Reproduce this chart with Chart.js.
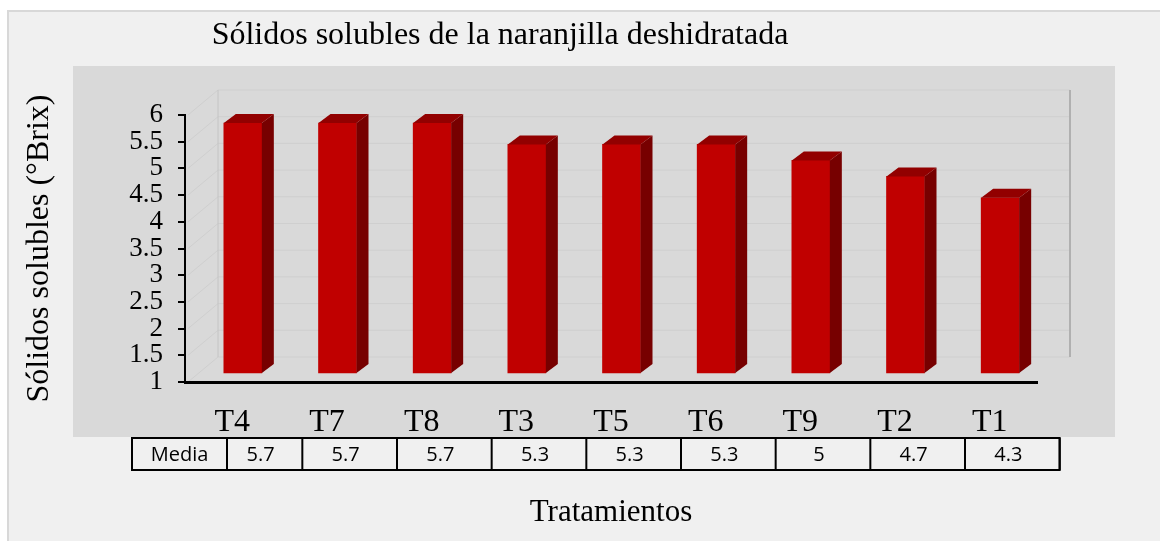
<!DOCTYPE html>
<html>
<head>
<meta charset="utf-8">
<script src="https://cdn.jsdelivr.net/npm/chart.js@4/dist/chart.umd.min.js"></script>
<style>
  html, body { margin: 0; padding: 0; background: #ffffff; }
  #frame {
    position: absolute; left: 7px; top: 10px; width: 1160px; height: 541px;
    background: #f0f0f0; border-top: 2px solid #d8d8d8; border-left: 2px solid #d8d8d8;
  }
  #wrap { position: absolute; left: 0; top: 0; width: 1160px; height: 541px; }
</style>
</head>
<body>
<div id="frame"></div>
<div id="wrap"><canvas id="chart" width="1160" height="541"></canvas></div>
<script>
        const chartTitle = 'Sólidos solubles de la naranjilla deshidratada';
        const yTitle = 'Sólidos solubles (°Brix)';
        const xTitle = 'Tratamientos';
        const categories = ['T4', 'T7', 'T8', 'T3', 'T5', 'T6', 'T9', 'T2', 'T1'];
        const means = [5.7, 5.7, 5.7, 5.3, 5.3, 5.3, 5, 4.7, 4.3];
        const tableRowLabel = 'Media';

        const serif = '"Liberation Serif", "Times New Roman", serif';

        // bars are drawn a bit behind the front axes (fake 3D)
        const SHIFT_X = 10.5;
        const SHIFT_Y = -8;
        const DEPTH_X = 12;
        const DEPTH_Y = -9;

        // background, back wall and its gridlines
        const backdrop = {
            id: 'backdrop',
            beforeDraw(chart) {
                const ctx = chart.ctx;
                const area = chart.chartArea;
                const y = chart.scales.y;
                ctx.save();
                ctx.fillStyle = '#d9d9d9';
                ctx.fillRect(73, 66, 1042, 371);

                const wx = 33, wy = -25;
                ctx.lineWidth = 1;
                ctx.strokeStyle = '#cfcfcf';
                y.ticks.forEach(t => {
                    const py = y.getPixelForValue(t.value);
                    ctx.beginPath();
                    ctx.moveTo(area.left + 3, py);
                    ctx.lineTo(area.left + wx, py + wy);
                    ctx.lineTo(area.right + wx, py + wy);
                    ctx.stroke();
                });
                // wall edges
                ctx.strokeStyle = '#c4c4c4';
                ctx.beginPath();
                ctx.moveTo(area.left + wx, area.top + wy);
                ctx.lineTo(area.left + wx, area.bottom + wy);
                ctx.stroke();
                ctx.strokeStyle = '#b0b0b0';
                ctx.lineWidth = 2;
                ctx.beginPath();
                ctx.moveTo(area.right + wx, area.top + wy);
                ctx.lineTo(area.right + wx, area.bottom + wy);
                ctx.stroke();
                ctx.restore();
            }
        };

        const bars3d = {
            id: 'bars3d',
            beforeDatasetDraw(chart) {
                chart.ctx.save();
                chart.ctx.translate(SHIFT_X, SHIFT_Y);
            },
            afterDatasetDraw(chart, args) {
                const ctx = chart.ctx;
                args.meta.data.forEach(bar => {
                    const {x, y, base, width} = bar.getProps(['x', 'y', 'base', 'width'], true);
                    const l = x - width / 2, r = x + width / 2;
                    // side
                    ctx.fillStyle = '#770000';
                    ctx.beginPath();
                    ctx.moveTo(r, y);
                    ctx.lineTo(r + DEPTH_X, y + DEPTH_Y);
                    ctx.lineTo(r + DEPTH_X, base + DEPTH_Y);
                    ctx.lineTo(r, base);
                    ctx.closePath();
                    ctx.fill();
                    // top
                    ctx.fillStyle = '#920000';
                    ctx.beginPath();
                    ctx.moveTo(l, y);
                    ctx.lineTo(r, y);
                    ctx.lineTo(r + DEPTH_X, y + DEPTH_Y);
                    ctx.lineTo(l + DEPTH_X, y + DEPTH_Y);
                    ctx.closePath();
                    ctx.fill();
                });
                ctx.restore();
            }
        };

        // chart title and data table under the axis
        const extras = {
            id: 'extras',
            afterDraw(chart) {
                const ctx = chart.ctx;
                const xs = chart.scales.x;
                ctx.save();
                ctx.fillStyle = '#000';
                ctx.font = '32px ' + serif;
                ctx.textAlign = 'center';
                ctx.textBaseline = 'middle';
                ctx.fillText(chartTitle, 500, 36);

                const top = 438, bottom = 470, left = 132, firstRight = 227;
                const rights = categories.map((c, i) => xs.getPixelForValue(i) + 70);
                ctx.strokeStyle = '#000';
                ctx.lineWidth = 2;
                ctx.strokeRect(left, top, rights[rights.length - 1] - left, bottom - top);
                ctx.beginPath();
                [firstRight].concat(rights).forEach(px => {
                    ctx.moveTo(px, top);
                    ctx.lineTo(px, bottom);
                });
                ctx.stroke();

                ctx.font = '20px "Open Sans", sans-serif';
                const mid = (top + bottom) / 2 + 1;
                ctx.fillText(tableRowLabel, (left + firstRight) / 2, mid);
                means.forEach((v, i) => {
                    const l = i === 0 ? firstRight : rights[i - 1];
                    ctx.fillText(String(v), (l + rights[i]) / 2 - 4, mid);
                });
                ctx.restore();
            }
        };

        new Chart(document.getElementById('chart'), {
            type: 'bar',
            data: {
                labels: categories,
                datasets: [{
                    data: means,
                    base: 1,
                    backgroundColor: '#c00000',
                    borderWidth: 0,
                    barThickness: 38,
                    clip: false
                }]
            },
            options: {
                responsive: false,
                animation: false,
                events: [],
                layout: { padding: { top: 115, right: 123, left: 0, bottom: 0 } },
                plugins: {
                    legend: { display: false },
                    tooltip: { enabled: false }
                },
                scales: {
                    x: {
                        grid: { display: false },
                        border: { display: true, color: '#000', width: 3 },
                        ticks: { color: '#000', font: { family: serif, size: 32 }, padding: 13 },
                        title: {
                            display: true,
                            text: xTitle,
                            color: '#000',
                            font: { family: serif, size: 31 },
                            padding: { top: 0, bottom: 10 }
                        },
                        afterFit(scale) { scale.height = 159; }
                    },
                    y: {
                        min: 1,
                        max: 6,
                        grid: { drawOnChartArea: false, drawTicks: true, tickLength: 7, color: '#000', lineWidth: 2 },
                        border: { display: true, color: '#000', width: 2 },
                        ticks: {
                            stepSize: 0.5,
                            autoSkip: false,
                            color: '#000',
                            padding: 15,
                            font: { family: serif, size: 27 },
                            callback: v => String(v)
                        },
                        title: {
                            display: true,
                            text: yTitle,
                            color: '#000',
                            font: { family: serif, size: 32 },
                            padding: { top: 20, bottom: 0 }
                        },
                        afterFit(scale) { scale.width = 185; }
                    }
                }
            },
            plugins: [backdrop, bars3d, extras]
        });
</script>
</body>
</html>
